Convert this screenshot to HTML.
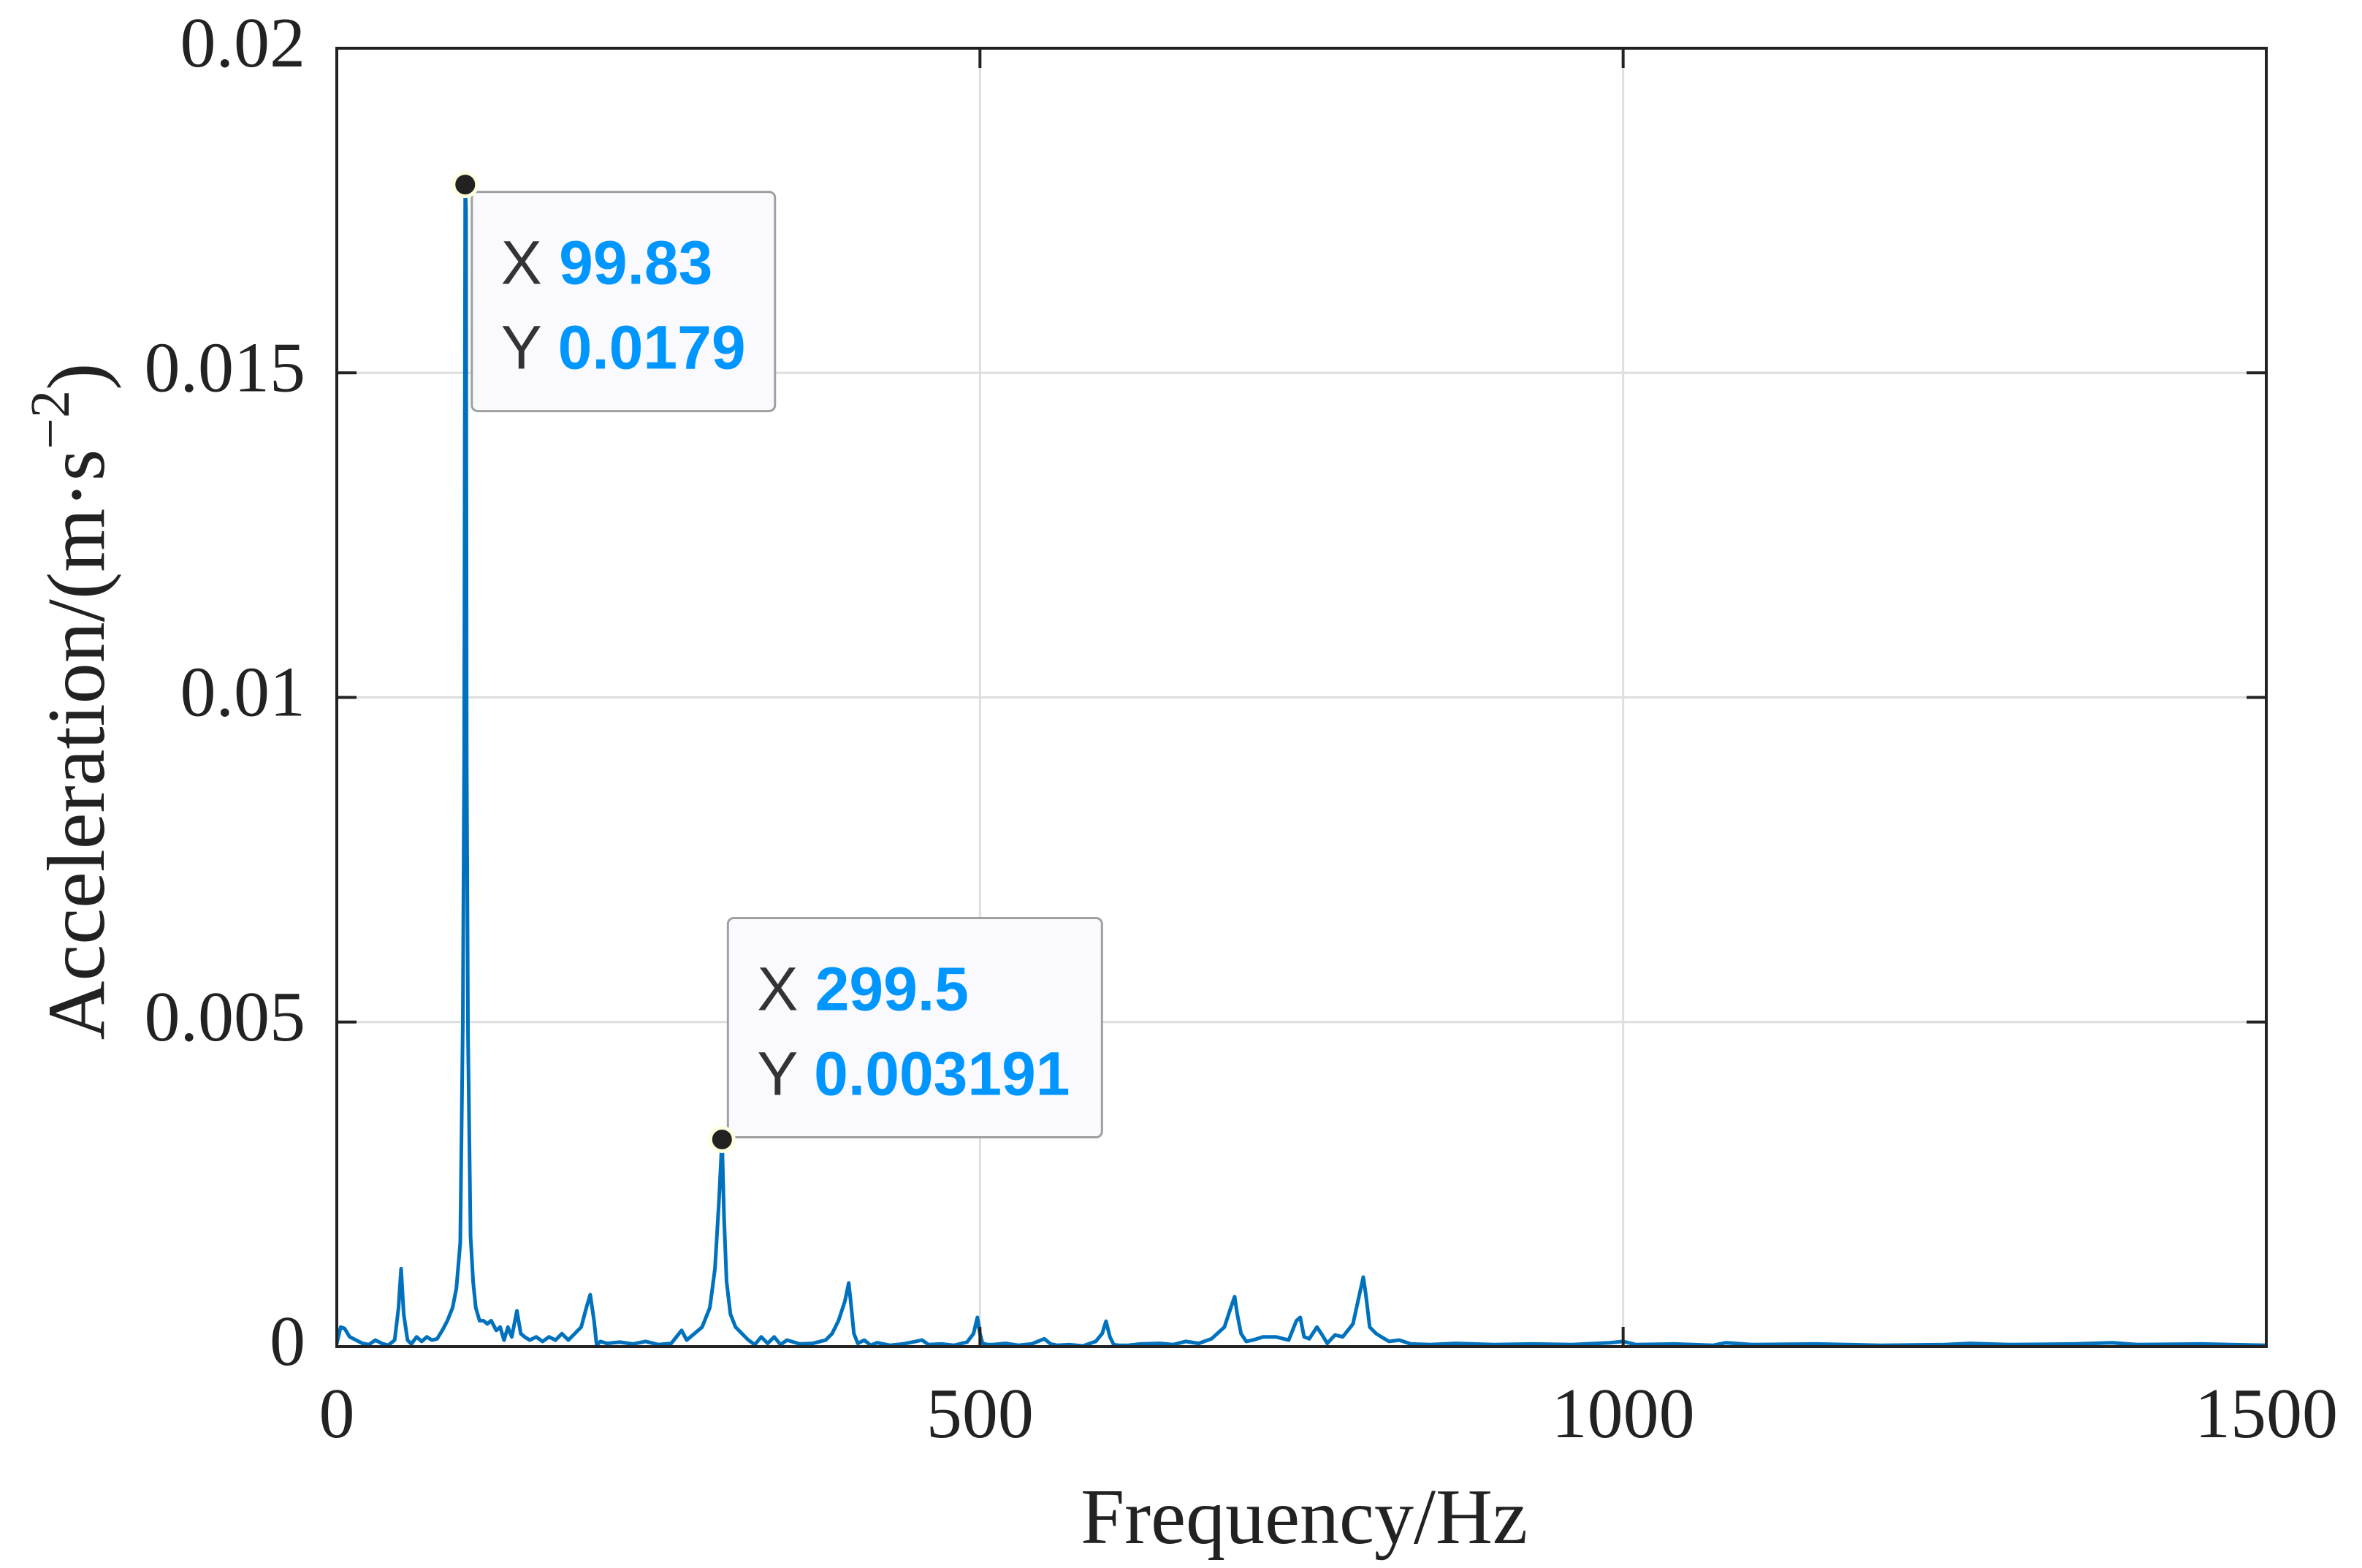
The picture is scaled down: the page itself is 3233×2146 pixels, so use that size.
<!DOCTYPE html>
<html><head><meta charset="utf-8"><style>
html,body{margin:0;padding:0;background:#fff;}
svg{display:block;}
</style></head><body>
<svg id="chart" width="3233" height="2146" viewBox="0 0 3233 2146" xmlns="http://www.w3.org/2000/svg">
<g id="grid"></g>
<g id="series"></g>
<g id="axes"></g>
<g id="tips"></g>
<text x="1785" y="2112" font-family="Liberation Serif, serif" font-size="108" text-anchor="middle" fill="#222">Frequency/Hz</text>
<text transform="translate(142,960) rotate(-90)" font-family="Liberation Serif, serif" font-size="112" text-anchor="middle" fill="#222">Acceleration/(m·s<tspan dy="-48" font-size="76">−2</tspan><tspan dy="48">)</tspan></text>
</svg>
<script>
const freqs=[0,3,6,10,15,20,25,30,35,40,45,48,50,52,55,58,62,66,70,74,78,82,86,90,93,96,98,99,99.83,100.5,101,102,104,106,108,111,114,117,120,124,127,130,133,136,140,143,146,150,155,160,165,170,175,180,185,190,194,197,200,202,205,210,220,230,240,250,260,268,272,278,284,290,294,297,299.5,301,303,306,310,315,320,325,330,335,340,345,350,360,370,380,385,390,395,398,400,402,405,410,415,420,430,440,450,455,460,470,480,490,495,498,500,502,506,510,520,530,540,550,555,560,570,580,590,595,598,601,604,608,615,625,640,650,660,670,680,690,695,698,700,703,707,712,720,730,740,746,749,752,756,762,766,770,776,782,790,795,798,800,803,808,812,818,826,835,850,870,900,930,960,990,1000,1010,1040,1070,1080,1100,1150,1200,1250,1270,1300,1350,1380,1400,1450,1500];
const amps=[0.00005,0.0003,0.00028,0.00015,0.0001,0.00005,0.00003,0.0001,0.00005,0.00002,0.0001,0.0006,0.0012,0.0005,0.0001,0.00004,0.00015,0.00008,0.00015,0.0001,0.00012,0.00025,0.0004,0.0006,0.0009,0.0016,0.005,0.009,0.0179,0.0175,0.009,0.0048,0.0017,0.001,0.0006,0.0004,0.0004,0.00035,0.0004,0.00025,0.0003,0.0001,0.0003,0.00015,0.00055,0.0002,0.00015,0.0001,0.00015,0.00008,0.00015,0.0001,0.0002,0.0001,0.0002,0.0003,0.0006,0.0008,0.0004,0.00002,0.00008,0.00005,0.00007,0.00004,0.00008,0.00003,0.00005,0.00025,0.0001,0.0002,0.0003,0.0006,0.0012,0.0022,0.00319,0.002,0.001,0.0005,0.0003,0.0002,0.0001,0.00003,0.00015,0.00005,0.00015,0.00003,0.0001,0.00004,0.00005,0.0001,0.0002,0.0004,0.0007,0.00098,0.0006,0.0002,0.00005,0.0001,0.00002,0.00006,0.00002,0.00004,0.00008,0.0001,0.00003,0.00004,0.00002,0.00007,0.0002,0.00045,0.0002,0.00005,0.00003,0.00003,0.00005,0.00002,0.00004,0.00012,0.00004,0.00002,0.00003,0.00001,0.00008,0.0002,0.00039,0.00015,0.00003,0.00002,0.00002,0.00004,0.00005,0.00003,0.00008,0.00005,0.00012,0.0003,0.0006,0.00077,0.0005,0.0002,0.00008,0.0001,0.00015,0.00015,0.0001,0.0004,0.00045,0.00015,0.00012,0.0003,0.00018,0.00005,0.00018,0.00015,0.00035,0.0008,0.00107,0.0008,0.0003,0.0002,0.00015,0.00008,0.0001,0.00004,0.00003,0.00005,0.00003,0.00004,0.00003,0.00006,0.00008,0.00003,0.00004,0.00002,0.00006,0.00003,0.00004,0.00002,0.00003,0.00005,0.00003,0.00004,0.00006,0.00003,0.00004,0.00002];
const xTicks=[0,500,1000,1500];
const yTicks=[0,0.005,0.01,0.015,0.02];
const yTickLabels=["0","0.005","0.01","0.015","0.02"];
const tipX=[99.83,299.5];
const tipY=[0.0179,0.003191];
const tipLabelX=["99.83","299.5"];
const tipLabelY=["0.0179","0.003191"];

const L=461,R=3102,T=66,B=1843;
const sx=v=>L+(v-0)/(1500-0)*(R-L);
const sy=v=>B-(v-0)/(0.02-0)*(B-T);
const NS="http://www.w3.org/2000/svg";
function mk(tag,attrs,parent){const e=document.createElementNS(NS,tag);for(const k in attrs)e.setAttribute(k,attrs[k]);parent.appendChild(e);return e;}
const grid=document.getElementById('grid'),axes=document.getElementById('axes'),series=document.getElementById('series'),tips=document.getElementById('tips');

xTicks.forEach((t,i)=>{
  const x=sx(t);
  const g=mk('line',{x1:x,x2:x,y1:T,y2:B,stroke:'#dedede','stroke-width':3},grid);
  
  
  const a=mk('line',{x1:x,x2:x,y1:B,y2:B-27,stroke:'#222','stroke-width':4},axes);
  
  
  const b=mk('line',{x1:x,x2:x,y1:T,y2:T+27,stroke:'#222','stroke-width':4},axes);
  
  
  const tx=mk('text',{x:x,y:1967,'font-family':'Liberation Serif, serif','font-size':98,'text-anchor':'middle',fill:'#222'},axes);
  tx.textContent=String(t);
  
  
});
yTicks.forEach((t,i)=>{
  const y=sy(t);
  const g=mk('line',{x1:L,x2:R,y1:y,y2:y,stroke:'#dedede','stroke-width':3},grid);
  
  
  const a=mk('line',{x1:L,x2:L+27,y1:y,y2:y,stroke:'#222','stroke-width':4},axes);
  
  
  const b=mk('line',{x1:R,x2:R-27,y1:y,y2:y,stroke:'#222','stroke-width':4},axes);
  
  
  const tx=mk('text',{x:418,y:y+25,'font-family':'Liberation Serif, serif','font-size':98,'text-anchor':'end',fill:'#222'},axes);
  tx.textContent=yTickLabels[i];
  
  
});
const frame=mk('rect',{x:L,y:T,width:R-L,height:B-T,fill:'none',stroke:'#222','stroke-width':4},axes);



const pts=freqs.map((f,i)=>sx(f).toFixed(1)+','+sy(amps[i]).toFixed(1)).join(' ');
const line=mk('polyline',{points:pts,fill:'none',stroke:'#0072BD','stroke-width':5,'stroke-linejoin':'round'},series);



const boxes=[{w:415,h:300},{w:512,h:300}];
tipX.forEach((f,i)=>{
  const px=sx(f),py=sy(tipY[i]);
  const g=mk('g',{},tips);
  
  
  let bx,by;
  if(i===0){bx=px+9;by=py+10;}else{bx=px+8;by=py-303;}
  const r=mk('rect',{x:bx,y:by,width:boxes[i].w,height:boxes[i].h,rx:8,fill:'#f9f9fe',stroke:'#a0a0a0','stroke-width':3},g);
  
  
  const t1=mk('text',{x:bx+40,y:by+126,'font-family':'Liberation Sans, sans-serif','font-size':84,fill:'#333'},g);
  t1.innerHTML='X <tspan fill="#0096ff" font-weight="bold">'+tipLabelX[i]+'</tspan>';
  
  
  const t2=mk('text',{x:bx+40,y:by+242,'font-family':'Liberation Sans, sans-serif','font-size':84,fill:'#333'},g);
  t2.innerHTML='Y <tspan fill="#0096ff" font-weight="bold">'+tipLabelY[i]+'</tspan>';
  
  
  const c=mk('circle',{cx:px,cy:py,r:16,fill:'#222',stroke:'#ffffe0','stroke-width':5},g);
  
  
});
</script>
</body></html>
